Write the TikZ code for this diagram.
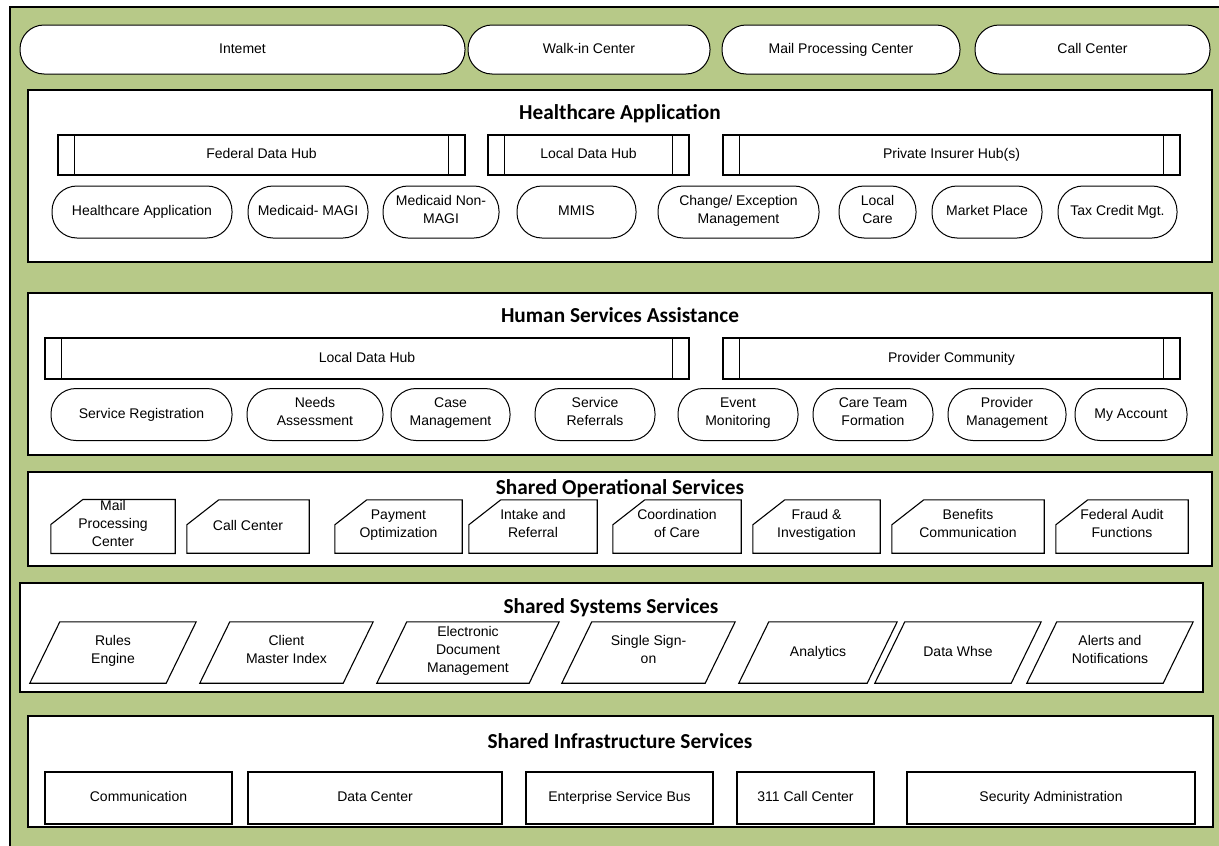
\documentclass[tikz,border=0pt]{standalone}
\usepackage{fontspec}
\setmainfont{Liberation Sans}
\newfontfamily\titlefont{Carlito}
\usepackage{tikz}
\definecolor{panelgreen}{RGB}{183,201,136}

\begin{document}
\begin{tikzpicture}[x=1pt, y=-1pt,
  every node/.style={font=\fontsize{14}{18}\selectfont, align=center, inner sep=1pt,
    execute at begin node=\strut, execute at end node=\strut},
  layer/.style={draw, line width=1.6pt, fill=white, rectangle, execute at begin node={}, execute at end node={}},
  layertitle/.style={font=\titlefont\fontsize{21.3}{24}\selectfont\bfseries, anchor=base,
    execute at begin node={}, execute at end node={}},
  channel/.style={draw, line width=1pt, fill=white, rounded corners=24pt, minimum height=49pt},
  pill/.style={draw, line width=1pt, rounded corners=25pt, minimum height=52pt},
  hubbar/.style={draw, line width=1.2pt, minimum height=40pt},
  opbox/.style={minimum height=53pt},
  sysbox/.style={minimum height=61pt},
  infrabox/.style={draw, line width=1.2pt, minimum height=52pt}]

\useasboundingbox (0,0) rectangle (1219,846);
\fill[white] (0,0) rectangle (1219,846);
\draw[fill=panelgreen, line width=1.2pt] (10,7) rectangle (1232,860);

% access channels
\node[channel, minimum width=445pt] (internet) at (242.5,49.5) {Intemet};
\node[channel, minimum width=242pt] (walkin) at (589,49.5) {Walk-in Center};
\node[channel, minimum width=238pt] (mailctr) at (841,49.5) {Mail Processing Center};
\node[channel, minimum width=235pt] (callctr) at (1092.5,49.5) {Call Center};

% healthcare application
\node[layer, minimum width=1184pt, minimum height=172pt] (hca) at (620,176) {};
\node[layertitle] (hcatitle) at (620,119) {Healthcare Application};
\node[hubbar, minimum width=407pt] (fedhub) at (261.5,155) {Federal Data Hub};
\node[hubbar, minimum width=201pt] (lochub) at (588.5,155) {Local Data Hub};
\node[hubbar, minimum width=457pt] (privhub) at (951.5,155) {Private Insurer Hub(s)};
\node[pill, minimum width=180pt] (hcapp) at (142,212) {Healthcare Application};
\node[pill, minimum width=120pt] (magi) at (308,212) {Medicaid- MAGI};
\node[pill, minimum width=116pt] (nonmagi) at (441,212) {Medicaid Non-\\MAGI};
\node[pill, minimum width=119pt] (mmis) at (576.5,212) {MMIS};
\node[pill, minimum width=161pt] (change) at (738.5,212) {Change/ Exception\\Management};
\node[pill, minimum width=77pt] (localcare) at (877.5,212) {Local\\Care};
\node[pill, minimum width=110pt] (market) at (987,212) {Market Place};
\node[pill, minimum width=119pt] (taxcredit) at (1117.5,212) {Tax Credit Mgt.};

% human services assistance
\node[layer, minimum width=1184pt, minimum height=162pt] (hsa) at (620,374) {};
\node[layertitle] (hsatitle) at (620,322) {Human Services Assistance};
\node[hubbar, minimum width=644pt, minimum height=41pt] (lochubb) at (367,358.5) {Local Data Hub};
\node[hubbar, minimum width=457pt, minimum height=41pt] (provhub) at (951.5,358.5) {Provider Community};
\node[pill, minimum width=181pt] (svcreg) at (141.5,414.5) {Service Registration};
\node[pill, minimum width=136pt] (needs) at (315,414.5) {Needs\\Assessment};
\node[pill, minimum width=119pt] (casemgt) at (450.5,414.5) {Case\\Management};
\node[pill, minimum width=120pt] (referrals) at (595,414.5) {Service\\Referrals};
\node[pill, minimum width=120pt] (eventmon) at (738,414.5) {Event\\Monitoring};
\node[pill, minimum width=120pt] (careteam) at (873,414.5) {Care Team\\Formation};
\node[pill, minimum width=118pt] (provmgt) at (1007,414.5) {Provider\\Management};
\node[pill, minimum width=112pt] (account) at (1131,414.5) {My Account};

\foreach \h in {fedhub,lochub,privhub,lochubb,provhub} {
  \draw[line width=1.2pt] ([xshift=17pt]\h.north west) -- ([xshift=17pt]\h.south west);
  \draw[line width=1.2pt] ([xshift=-17pt]\h.north east) -- ([xshift=-17pt]\h.south east);
}

% shared operational services
\node[layer, minimum width=1184pt, minimum height=94pt] (sos) at (620,519) {};
\node[layertitle] (sostitle) at (620,494) {Shared Operational Services};
\node[opbox, minimum width=124pt] (opmail) at (113,526.5) {Mail\\Processing\\Center};
\node[opbox, minimum width=122pt] (opcall) at (248,526.5) {Call Center};
\node[opbox, minimum width=127pt] (payment) at (398.5,526.5) {Payment\\Optimization};
\node[opbox, minimum width=128pt] (intake) at (533,526.5) {Intake and\\Referral};
\node[opbox, minimum width=128pt] (coord) at (677,526.5) {Coordination\\of Care};
\node[opbox, minimum width=127pt] (fraud) at (816.5,526.5) {Fraud \&\\Investigation};
\node[opbox, minimum width=152pt] (benefits) at (968,526.5) {Benefits\\Communication};
\node[opbox, minimum width=132pt] (audit) at (1122,526.5) {Federal Audit\\Functions};

% cut top left corner
\foreach \o in {opmail,opcall,payment,intake,coord,fraud,benefits,audit}
  \draw[line width=1.1pt] (\o.south west) -- ([yshift=-25pt]\o.north west)
    -- ([xshift=32pt]\o.north west) -- (\o.north east) -- (\o.south east) -- cycle;

% shared systems services
\node[layer, minimum width=1183pt, minimum height=109pt] (sss) at (611.5,637.5) {};
\node[layertitle] (ssstitle) at (611,613) {Shared Systems Services};
\node[sysbox, minimum width=136pt] (rules) at (113,652.5) {Rules\\Engine};
\node[sysbox, minimum width=143pt] (cmi) at (286.5,652.5) {Client\\Master Index};
\node[sysbox, minimum width=152pt] (edm) at (468,652.5) {Electronic\\Document\\Management};
\node[sysbox, minimum width=143pt] (sso) at (648.5,652.5) {Single Sign-\\on};
\node[sysbox, minimum width=128pt] (analytics) at (818,652.5) {Analytics};
\node[sysbox, minimum width=136pt] (whse) at (958,652.5) {Data Whse};
\node[sysbox, minimum width=136pt] (alerts) at (1110,652.5) {Alerts and\\Notifications};

% slanted sides
\foreach \s in {rules,cmi,edm,sso,analytics,whse,alerts}
  \draw[line width=1.1pt] ([xshift=15pt]\s.north west) -- ([xshift=15pt]\s.north east)
    -- ([xshift=-15pt]\s.south east) -- ([xshift=-15pt]\s.south west) -- cycle;

% shared infrastructure services
\node[layer, minimum width=1185pt, minimum height=111pt] (sis) at (620.5,771.5) {};
\node[layertitle] (sistitle) at (620,748) {Shared Infrastructure Services};
\node[infrabox, minimum width=187pt] (comm) at (138.5,798) {Communication};
\node[infrabox, minimum width=254pt] (datactr) at (375,798) {Data Center};
\node[infrabox, minimum width=187pt] (esb) at (619.5,798) {Enterprise Service Bus};
\node[infrabox, minimum width=137pt] (call311) at (805.5,798) {311 Call Center};
\node[infrabox, minimum width=288pt] (secadmin) at (1051,798) {Security Administration};
\end{tikzpicture}
\end{document}
